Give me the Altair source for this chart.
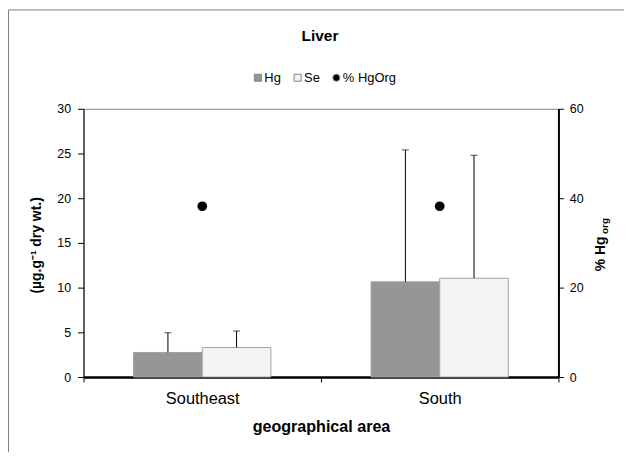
import altair as alt
import pandas as pd

# ---- data ----
areas = ["Southeast", "South"]
series = ["Hg", "Se"]
hg_mean = [2.75, 10.65]
hg_sd = [2.2, 14.75]
se_mean = [3.3, 11.05]
se_sd = [1.85, 13.75]
pct_hgorg = [38.2, 38.2]

legend_items = ["Hg", "Se", "% HgOrg"]
fill_colors = ["#969696", "#f3f3f3", "#000000"]
shapes = ["square", "square", "circle"]

rows = []
for i, a in enumerate(areas):
    rows.append({"area": a, "series": "Hg", "value": hg_mean[i], "upper": hg_mean[i] + hg_sd[i]})
    rows.append({"area": a, "series": "Se", "value": se_mean[i], "upper": se_mean[i] + se_sd[i]})
bars_df = pd.DataFrame(rows)
pct_df = pd.DataFrame({"area": areas, "series": ["% HgOrg"] * len(areas), "pct": pct_hgorg})

FONT = "Liberation Sans"

x_enc = alt.X(
    "area:N",
    sort=areas,
    scale=alt.Scale(paddingInner=0, paddingOuter=0),
    axis=alt.Axis(
        title="geographical area",
        labelAngle=0,
        labelFontSize=16.5,
        labelFont=FONT,
        labelColor="#000",
        labelPadding=9,
        tickBand="extent",
        tickSize=5,
        tickColor="#000",
        domainColor="#000",
        domainWidth=2.5,
        titleFont=FONT,
        titleFontSize=16.2,
        titleFontWeight="bold",
        titleColor="#000",
        titleY=50,
        titleBaseline="middle",
    ),
)
xoff = alt.XOffset("series:N", scale=alt.Scale(domain=series, paddingInner=0, paddingOuter=0.73))
fill_scale = alt.Scale(domain=legend_items, range=fill_colors)
shape_scale = alt.Scale(domain=legend_items, range=shapes)
y_left_scale = alt.Scale(domain=[0, 30])

bars = alt.Chart(bars_df).mark_bar(stroke="#a0a0a0", strokeWidth=1).encode(
    x=x_enc,
    xOffset=xoff,
    y=alt.Y(
        "value:Q",
        scale=y_left_scale,
        axis=alt.Axis(
            title="(µg.g⁻¹ dry wt.)",
            values=[0, 5, 10, 15, 20, 25, 30],
            grid=False,
            labelFont=FONT,
            labelFontSize=12.5,
            labelColor="#000",
            labelPadding=7,
            tickSize=6,
            tickColor="#000",
            domainColor="#000",
            domainWidth=1,
            titleFont=FONT,
            titleFontSize=14,
            titleFontWeight="bold",
            titleColor="#000",
            titleX=-47,
            titleY=137,
            titleAngle=270,
            titleAlign="center",
            titleBaseline="middle",
        ),
    ),
    fill=alt.Fill("series:N", scale=fill_scale, title=None),
)

err = alt.Chart(bars_df).mark_rule(color="#000", strokeWidth=1).encode(
    x=alt.X("area:N", sort=areas),
    xOffset=xoff,
    y=alt.Y("value:Q", scale=y_left_scale),
    y2="upper:Q",
)
caps = alt.Chart(bars_df).mark_tick(color="#000", size=7, thickness=1).encode(
    x=alt.X("area:N", sort=areas),
    xOffset=xoff,
    y=alt.Y("upper:Q", scale=y_left_scale),
)
left = alt.layer(bars, err, caps)

dots = alt.Chart(pct_df).mark_point(filled=True, size=95, opacity=1).encode(
    x=alt.X("area:N", sort=areas),
    y=alt.Y(
        "pct:Q",
        scale=alt.Scale(domain=[0, 60]),
        axis=alt.Axis(
            orient="right",
            title=None,
            values=[0, 20, 40, 60],
            grid=False,
            labelFont=FONT,
            labelFontSize=12.5,
            labelColor="#000",
            labelPadding=6,
            tickSize=5,
            tickColor="#000",
            domainColor="#000",
            domainWidth=2,
        ),
    ),
    fill=alt.Fill("series:N", scale=fill_scale, title=None),
    shape=alt.Shape("series:N", scale=shape_scale, title=None),
)

one = alt.Data(values=[{"k": 1}])
main_title = alt.Chart(one).mark_text(
    text="Liver", font=FONT, fontSize=15.5, fontWeight="bold", color="#000",
    align="center", baseline="alphabetic",
).encode(x=alt.value(238), y=alt.value(-68))
rt_title = alt.Chart(one).mark_text(
    text="% Hg", angle=270, font=FONT, fontSize=14, fontWeight="bold", color="#000",
    align="center", baseline="middle",
).encode(x=alt.value(521), y=alt.value(146))
rt_sub = alt.Chart(one).mark_text(
    text="org", angle=270, font=FONT, fontSize=10, fontWeight="bold", color="#000",
    align="center", baseline="middle",
).encode(x=alt.value(525), y=alt.value(118))

border_left = alt.Chart(one).mark_rule(color="#808080", strokeWidth=1).encode(
    x=alt.value(-75.5), y=alt.value(-99.5), y2=alt.value(372)
)
border_top = alt.Chart(one).mark_rule(color="#808080", strokeWidth=1).encode(
    x=alt.value(-75.5), x2=alt.value(546), y=alt.value(-99.5)
)

chart = (
    alt.layer(left, dots, main_title, rt_title, rt_sub, border_left, border_top)
    .resolve_scale(y="independent")
    .properties(
        width=478,
        height=270,
        autosize=alt.AutoSizeParams(type="none"),
        padding={"left": 76, "top": 100, "right": 66, "bottom": 74},
    )
    .configure_view(stroke="#808080", strokeWidth=1)
    .configure_legend(
        orient="none",
        legendX=169,
        legendY=-38,
        direction="horizontal",
        columns=3,
        labelFont=FONT,
        labelFontSize=13,
        labelColor="#000",
        labelOffset=0,
        columnPadding=10,
        symbolSize=50,
        symbolStrokeColor="#808080",
        symbolStrokeWidth=1,
    )
)

chart.save("out.html", embed_options={"renderer": "svg", "actions": False})
